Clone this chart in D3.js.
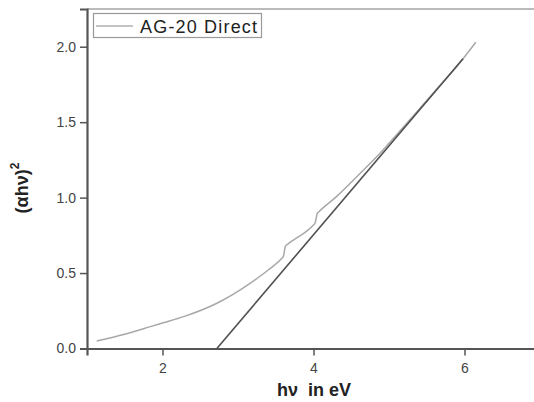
<!DOCTYPE html>
<html>
<head>
<meta charset="utf-8">
<script src="https://cdn.jsdelivr.net/npm/d3@7"></script>
<style>
  body { margin: 0; background: #fff; }
  svg { display: block; font-family: Arial, "Liberation Sans", sans-serif; }
</style>
</head>
<body>
<div id="chart"></div>
<script>
// absorption curve
const curveX = [1.13, 1.5, 1.84, 2.0, 2.28, 2.72, 3.16, 3.4, 3.58, 3.60, 3.63, 3.66, 4.0, 4.02, 4.05, 4.08, 4.3, 4.6, 4.84, 5.0, 5.3, 5.6, 5.9, 6.15];
const curveY = [0.05, 0.095, 0.145, 0.169, 0.211, 0.30, 0.432, 0.52, 0.598, 0.61, 0.68, 0.692, 0.819, 0.83, 0.895, 0.91, 1.005, 1.152, 1.272, 1.36, 1.53, 1.70, 1.87, 2.03];
// linear fit (tangent) end points
const fitX = [2.72, 5.98];
const fitY = [0.0, 1.92];

const xTicks = [2, 4, 6];
const xMinor = [1, 3, 5, 7];
const yTicks = [0.0, 0.5, 1.0, 1.5, 2.0];
const yMinor = [0.25, 0.75, 1.25, 1.75, 2.25];

const width = 534, height = 402;
const margin = { top: 9, right: -6, bottom: 54, left: 87 };

const svg = d3.select("#chart").append("svg")
  .attr("width", width)
  .attr("height", height);

const x = d3.scaleLinear().domain([1, 7]).range([margin.left, width - margin.right]);
const y = d3.scaleLinear().domain([0, 2.25]).range([height - margin.bottom + 0.5, margin.top]);

const axisColor = "#555";

// top frame line
svg.append("line")
  .attr("x1", x(1)).attr("x2", x(7))
  .attr("y1", y(2.25)).attr("y2", y(2.25))
  .attr("stroke", "#bbb").attr("stroke-width", 2);

const curve = curveX.map((v, i) => [v, curveY[i]]);
const fit = fitX.map((v, i) => [v, fitY[i]]);
const line = d3.line().x(d => x(d[0])).y(d => y(d[1]));

svg.append("path")
  .attr("d", line.curve(d3.curveMonotoneX)(curve))
  .attr("fill", "none")
  .attr("stroke", "#a8a8a8")
  .attr("stroke-width", 1.5);

svg.append("path")
  .attr("d", line.curve(d3.curveLinear)(fit))
  .attr("fill", "none")
  .attr("stroke", "#505050")
  .attr("stroke-width", 1.6);

// x axis
const gx = svg.append("g")
  .attr("transform", `translate(0,${y(0)})`);
gx.call(d3.axisBottom(x).tickValues(xMinor).tickSize(4).tickFormat(""))
gx.call(d3.axisBottom(x).tickValues(xTicks).tickSize(7).tickPadding(8).tickFormat(d3.format("d")));
gx.selectAll(".domain").attr("stroke", axisColor).attr("stroke-width", 2.2);
gx.selectAll("line").attr("stroke", axisColor).attr("stroke-width", 1.5);
gx.selectAll("text").attr("font-size", 14).attr("fill", "#444");

// y axis
const gy = svg.append("g")
  .attr("transform", `translate(${x(1)},0)`);
gy.call(d3.axisLeft(y).tickValues(yMinor).tickSize(4).tickFormat(""));
gy.call(d3.axisLeft(y).tickValues(yTicks).tickSize(7).tickPadding(4).tickFormat(d3.format(".1f")));
gy.selectAll(".domain").attr("stroke", axisColor).attr("stroke-width", 2.2);
gy.selectAll("line").attr("stroke", axisColor).attr("stroke-width", 1.5);
gy.selectAll("text").attr("font-size", 14).attr("fill", "#444");

// legend
const lg = svg.append("g");
lg.append("rect")
  .attr("x", 93.5).attr("y", 13.5)
  .attr("width", 168).attr("height", 24)
  .attr("fill", "#fff")
  .attr("stroke", "#999").attr("stroke-width", 1.2);
lg.append("line")
  .attr("x1", 96).attr("x2", 133)
  .attr("y1", 26).attr("y2", 26)
  .attr("stroke", "#888").attr("stroke-width", 1);
lg.append("text")
  .attr("x", 140).attr("y", 33)
  .attr("font-size", 18)
  .attr("fill", "#222")
  .attr("textLength", 117)
  .text("AG-20 Direct");

// axis titles
svg.append("text")
  .attr("x", 314).attr("y", 396)
  .attr("text-anchor", "middle")
  .attr("font-size", 18)
  .attr("font-weight", "bold")
  .attr("fill", "#222")
  .style("white-space", "pre")
  .text("hν  in eV");

const yl = svg.append("text")
  .attr("transform", "translate(28,188) rotate(-90)")
  .attr("text-anchor", "middle")
  .attr("font-size", 18)
  .attr("font-weight", "bold")
  .attr("fill", "#222");
yl.append("tspan").text("(αhν)");
yl.append("tspan").attr("dy", -9).attr("font-size", 12).text("2");
</script>
</body>
</html>
